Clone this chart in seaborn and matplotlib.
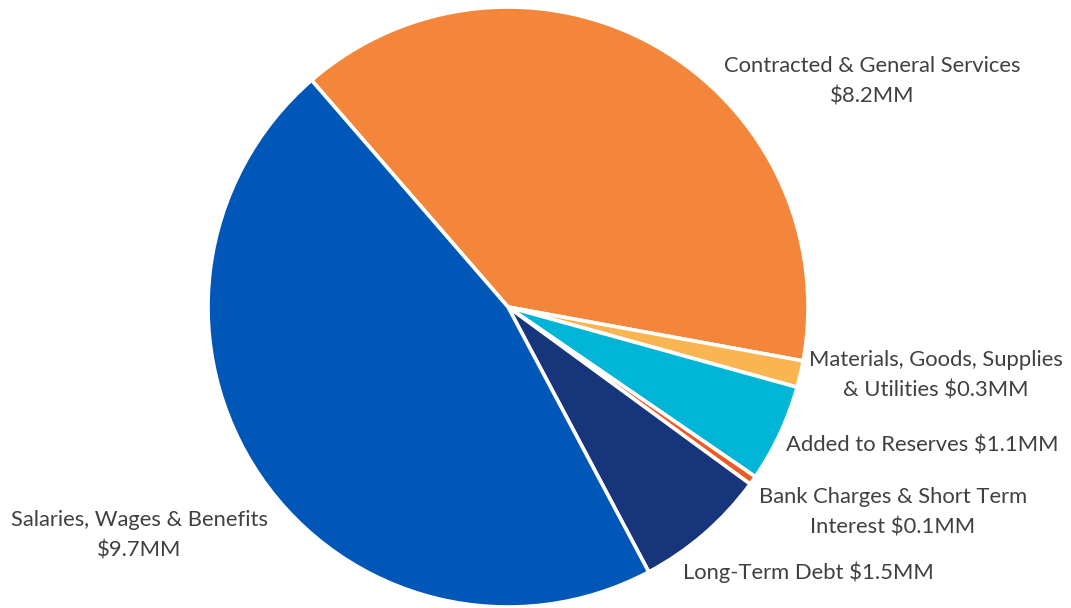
import matplotlib
matplotlib.use("Agg")
import matplotlib.pyplot as plt
import seaborn as sns
import numpy as np

# Expense breakdown (in $ millions), clockwise from the upper-left
categories = [
    "Contracted & General Services",
    "Materials, Goods, Supplies & Utilities",
    "Added to Reserves",
    "Bank Charges & Short Term Interest",
    "Long-Term Debt",
    "Salaries, Wages & Benefits",
]
values = [8.2, 0.3, 1.1, 0.1, 1.5, 9.7]
label_texts = [
    "Contracted & General Services\n$8.2MM",
    "Materials, Goods, Supplies\n& Utilities $0.3MM",
    "Added to Reserves $1.1MM",
    "Bank Charges & Short Term\nInterest $0.1MM",
    "Long-Term Debt $1.5MM",
    "Salaries, Wages & Benefits\n$9.7MM",
]
colors = ["#F4863B", "#FBB452", "#00B5D6", "#EE5A24", "#17357B", "#0057B8"]

# label anchor points in pie-radius units (centre of pie at 0,0)
label_pos = [
    (1.213, 0.753),
    (1.427, -0.227),
    (1.380, -0.460),
    (1.283, -0.683),
    (1.000, -0.883),
    (-1.230, -0.760),
]

sns.set_theme(style="white")
plt.rcParams["font.family"] = ["Lato", "DejaVu Sans"]

W, H, DPI = 1071, 608, 100
fig = plt.figure(figsize=(W / DPI, H / DPI), dpi=DPI)
ax = fig.add_axes([0, 0, 1, 1])

cx, cy, r = 508, 307, 300  # pixel centre and radius
start = 130.9
ax.pie(
    values,
    colors=colors,
    startangle=start,
    counterclock=False,
    radius=1.0,
    wedgeprops=dict(edgecolor="white", linewidth=2.6),
)

for txt, (lx, ly) in zip(label_texts, label_pos):
    ax.text(lx, ly, txt, ha="center", va="center", fontsize=15.8,
            color="#404040", linespacing=1.65)

ax.set_xlim(-cx / r, (W - cx) / r)
ax.set_ylim((cy - H) / r, cy / r)
ax.set_aspect("equal")
ax.axis("off")

fig.savefig("out.png", dpi=DPI, facecolor="white")
